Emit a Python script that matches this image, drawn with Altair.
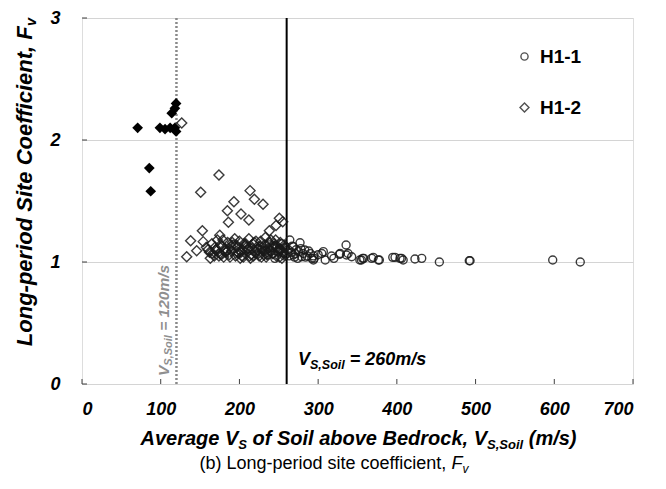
import altair as alt
import pandas as pd

# ---------------- data ----------------
# H1-1 (open circles)
h11_vs = [228, 236, 243, 249, 253, 257, 245, 238, 232, 251,
          262, 264, 266, 268.5, 268.5, 270, 272, 275, 277, 279, 281, 283, 286, 290,
          263, 267, 271, 274, 278, 284, 288,
          292, 294, 295, 294, 300, 304.6, 306.6, 309, 317, 320, 327, 328, 335.5, 336,
          338, 342.6, 353, 355, 356.6, 358, 368, 370, 376.5, 377.8, 394.8, 397.7, 404,
          406, 408, 423, 431.6, 454, 492, 493, 598, 633]
h11_fv = [1.10, 1.06, 1.12, 1.08, 1.15, 1.05, 1.03, 1.14, 1.09, 1.11,
          1.10, 1.18, 1.08, 1.125, 1.057, 1.04, 1.10, 1.085, 1.158, 1.043, 1.07, 1.098, 1.05, 1.07,
          1.05, 1.13, 1.07, 1.03, 1.11, 1.04, 1.09,
          1.03, 1.05, 1.03, 1.016, 1.06, 1.07, 1.085, 1.016, 1.049, 1.03, 1.063, 1.07, 1.139, 1.057,
          1.07, 1.043, 1.016, 1.016, 1.03, 1.03, 1.03, 1.038, 1.016, 1.016, 1.038, 1.038, 1.03,
          1.03, 1.016, 1.025, 1.03, 1.0, 1.01, 1.01, 1.016, 1.0]

# H1-2 (open diamonds)
h12_vs = [126.7, 174, 150.8, 213.5, 219, 230, 193, 184.7, 202, 212, 186, 250.7, 246.5, 238,
          152.9, 175, 138, 154, 133, 145.7, 255,
          158, 162, 165, 168, 170, 172, 175, 178, 180, 182, 185, 187, 190, 192, 195, 197, 200,
          202, 205, 207, 210, 212, 215, 217, 220, 222, 225, 227, 230, 232, 235, 237, 240, 242,
          245, 247, 250, 252, 255, 257, 259,
          163, 171, 179, 188, 196, 204, 213, 221, 229, 236, 244, 251, 258,
          166, 176, 184, 194, 203, 211, 219, 228, 239, 248, 256,
          160, 183, 208, 233, 254,
          169, 177, 189, 198, 206, 214, 223, 231, 241, 249, 257,
          181, 191, 199, 209, 218, 226, 234, 243, 253,
          174, 201, 216, 224, 238, 246]
h12_fv = [2.14, 1.713, 1.571, 1.585, 1.514, 1.473, 1.494, 1.42, 1.393, 1.344, 1.325, 1.358, 1.30, 1.257,
          1.257, 1.22, 1.175, 1.167, 1.043, 1.093, 1.33,
          1.12, 1.08, 1.15, 1.05, 1.10, 1.18, 1.07, 1.13, 1.04, 1.11, 1.16, 1.06, 1.09, 1.14, 1.05, 1.12, 1.17,
          1.08, 1.04, 1.13, 1.10, 1.19, 1.06, 1.15, 1.08, 1.12, 1.05, 1.17, 1.09, 1.14, 1.06, 1.11, 1.18, 1.07,
          1.13, 1.05, 1.10, 1.16, 1.08, 1.12, 1.06,
          1.03, 1.09, 1.18, 1.04, 1.14, 1.10, 1.05, 1.17, 1.12, 1.08, 1.15, 1.04, 1.11,
          1.07, 1.14, 1.09, 1.19, 1.05, 1.11, 1.16, 1.04, 1.09, 1.13, 1.07,
          1.10, 1.08, 1.15, 1.20, 1.03,
          1.12, 1.06, 1.13, 1.08, 1.15, 1.03, 1.10, 1.06, 1.12, 1.09, 1.14,
          1.09, 1.16, 1.07, 1.12, 1.05, 1.13, 1.04, 1.07, 1.10,
          1.05, 1.03, 1.11, 1.07, 1.16, 1.18]

# H1-2 sites below 120 m/s (filled diamonds)
h12f_vs = [70.7, 85.5, 87.3, 99, 105.5, 112, 118, 119.5, 114, 118, 119.5]
h12f_fv = [2.10, 1.77, 1.58, 2.10, 2.09, 2.10, 2.10, 2.07, 2.22, 2.26, 2.30]

x_ticks = [0, 100, 200, 300, 400, 500, 600, 700]
y_ticks = [0, 1, 2, 3]
limit_lines = [120, 260]
series_names = ["H1-1", "H1-2"]

# ---------------- layout ----------------
PL, PT = 82, 18          # plot origin in the page
W, H = 551, 366          # plot area
FONT = "Liberation Sans"

CIRCLE_PATH = "M0.8,0A0.8,0.8,0,1,1,-0.8,0A0.8,0.8,0,1,1,0.8,0Z"
DIAMOND_PATH = "M-1,0L0,-1L1,0L0,1Z"

BOLD = {' ': 278, '(': 333, ')': 333, ',': 278, '-': 333, '.': 278, '/': 278, '=': 584,
        'A': 722, 'B': 722, 'C': 722, 'F': 611, 'H': 722, 'L': 611, 'S': 667, 'V': 667,
        'a': 556, 'b': 611, 'c': 556, 'd': 611, 'e': 556, 'f': 333, 'g': 611, 'i': 278,
        'k': 556, 'l': 278, 'm': 889, 'n': 611, 'o': 611, 'p': 611, 'r': 389, 's': 556,
        't': 333, 'v': 556}
REG = {' ': 278, '(': 333, ')': 333, ',': 278, '-': 333, 'F': 611, 'L': 556,
       'b': 556, 'c': 500, 'd': 556, 'e': 556, 'f': 278, 'g': 556, 'i': 222, 'n': 556,
       'o': 556, 'p': 556, 'r': 333, 's': 500, 't': 278, 'v': 500}


def tw(s, size, table):
    return sum(table.get(c, 556) for c in s) * size / 1000.0


def piece(txt, x, y, size, color="black", weight="bold", style="italic", angle=0):
    kw = dict(align="left", baseline="alphabetic", font=FONT, fontSize=size,
              fontWeight=weight, fontStyle=style, color=color)
    if angle:
        kw["angle"] = angle
    return alt.Chart(pd.DataFrame({"t": [txt]})).mark_text(**kw).encode(
        x=alt.value(x - PL), y=alt.value(y - PT), text="t:N")


def lead_w(txt, size, table):
    n = len(txt) - len(txt.lstrip(" "))
    return tw(" " * n, size, table)


def hrun(parts, x0, base, center=False, color="black"):
    # parts: (text, size, dy, weight, style)
    total = sum(tw(p[0], p[1], BOLD if p[3] == "bold" else REG) for p in parts)
    x = x0 - total / 2 if center else x0
    out = []
    for txt, size, dy, wt, st in parts:
        tb = BOLD if wt == "bold" else REG
        out.append(piece(txt.strip(" "), x + lead_w(txt, size, tb), base + dy, size, color, wt, st))
        x += tw(txt, size, tb)
    return out


def vrun(parts, basex, y0, center=False, color="black"):
    total = sum(tw(p[0], p[1], BOLD) for p in parts)
    y = y0 + total / 2 if center else y0
    out = []
    for txt, size, dx in parts:
        out.append(piece(txt.strip(" "), basex + dx, y - lead_w(txt, size, BOLD), size, color,
                         "bold", "italic", angle=270))
        y -= tw(txt, size, BOLD)
    return out


# ---------------- scales / axes ----------------
xscale = alt.Scale(domain=[0, 700], nice=False, zero=False)
yscale = alt.Scale(domain=[0, 3], nice=False, zero=False)
xaxis = alt.Axis(values=x_ticks, title=None, grid=False, ticks=False, domain=False, format="d",
                 labelFont=FONT, labelFontSize=18, labelFontWeight="bold",
                 labelFontStyle="italic", labelColor="black", labelPadding=16)
yaxis = alt.Axis(values=y_ticks, title=None, grid=True, gridColor="#d4d4d4", gridWidth=1,
                 ticks=False, domain=False, format="d", labelFont=FONT, labelFontSize=18,
                 labelFontWeight="bold", labelFontStyle="italic", labelColor="black",
                 labelPadding=22)

open_df = pd.DataFrame({
    "vs": h12_vs + h11_vs,
    "fv": h12_fv + h11_fv,
    "series": ["H1-2"] * len(h12_vs) + ["H1-1"] * len(h11_vs),
})
filled_df = pd.DataFrame({"vs": h12f_vs, "fv": h12f_fv})

points = alt.Chart(open_df).mark_point(filled=False, strokeWidth=1.4, opacity=0.85,
                                        size=100).encode(
    x=alt.X("vs:Q", scale=xscale, axis=xaxis),
    y=alt.Y("fv:Q", scale=yscale, axis=yaxis),
    shape=alt.Shape("series:N",
                    scale=alt.Scale(domain=series_names, range=[CIRCLE_PATH, DIAMOND_PATH]),
                    legend=alt.Legend(title=None, orient="none", legendX=433, legendY=29,
                                      labelFont=FONT, labelFontSize=19, labelFontWeight="bold",
                                      labelColor="black", symbolSize=80, symbolStrokeWidth=1.4,
                                      symbolStrokeColor="#333333", symbolFillColor="white",
                                      rowPadding=31, labelOffset=6)),
    color=alt.value("#1a1a1a"),
)

filled = alt.Chart(filled_df).mark_point(shape="diamond", filled=True, size=115,
                                          color="black", opacity=1).encode(
    x=alt.X("vs:Q"), y=alt.Y("fv:Q"))

line120 = alt.Chart(pd.DataFrame({"vs": [limit_lines[0]]})).mark_rule(
    color="#8a8a8a", strokeDash=[2, 2], strokeWidth=2.5).encode(x="vs:Q")
line260 = alt.Chart(pd.DataFrame({"vs": [limit_lines[1]]})).mark_rule(
    color="black", strokeWidth=2).encode(x="vs:Q")

xt = alt.Chart(pd.DataFrame({"vs": x_ticks})).mark_rule(color="#404040", strokeWidth=1).encode(
    x="vs:Q", y=alt.value(H), y2=alt.value(H - 5))
yt = alt.Chart(pd.DataFrame({"fv": y_ticks})).mark_rule(color="#404040", strokeWidth=1).encode(
    y="fv:Q", x=alt.value(0), x2=alt.value(5))

# ---------------- texts ----------------
texts = []
texts += hrun([("Average V", 20, 0, "bold", "italic"), ("S", 13, 4, "bold", "italic"),
               (" of Soil above Bedrock, V", 20, 0, "bold", "italic"),
               ("S,Soil", 13, 4, "bold", "italic"), (" (m/s)", 20, 0, "bold", "italic")],
              PL + W / 2 + 1, 445, center=True)
texts += hrun([("(b) Long-period site coefficient, ", 18, 0, "normal", "normal"),
               ("F", 18, 0, "normal", "italic"), ("v", 12, 4, "normal", "italic")],
              334, 469, center=True)
texts += vrun([("Long-period Site Coefficient, F", 22, 0), ("v", 14.5, 4)], 32, 182, center=True)
texts += hrun([("V", 18, 0, "bold", "italic"), ("S,Soil", 12.5, 4, "bold", "italic"),
               (" = 260m/s", 18, 0, "bold", "italic")], 298, 365)
texts += vrun([("V", 15.5, 0), ("S,Soil", 11, 3), (" = 120m/s", 15.5, 0)], 169, 376,
              color="#8f8f8f")

chart = alt.layer(line120, line260, points, filled, xt, yt, *texts).properties(
    width=W, height=H,
    padding={"left": PL, "top": PT, "right": 666 - PL - W, "bottom": 489 - PT - H},
    autosize=alt.AutoSizeParams(type="none"),
).configure_view(stroke="#404040", strokeWidth=1.2).configure(background="white")

chart.save("out.html", embed_options={"renderer": "svg", "actions": False})
